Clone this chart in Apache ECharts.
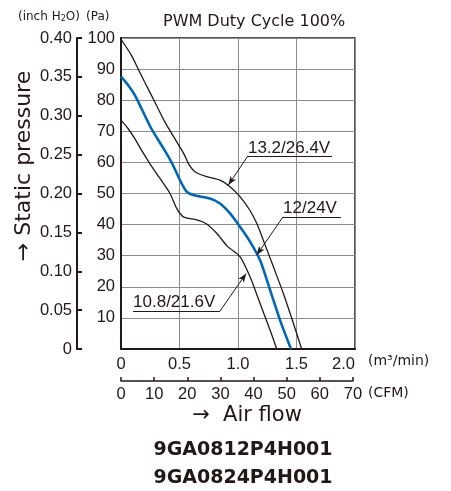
<!DOCTYPE html>
<html>
<head>
<meta charset="utf-8">
<script src="https://cdn.jsdelivr.net/npm/echarts@6/dist/echarts.min.js"></script>
<style>
  html, body { margin: 0; padding: 0; background: #fff; }
  #chart { width: 451px; height: 491px; }
</style>
</head>
<body>
<div id="chart"></div>
<script>
// ==================== 数据 ====================
// 风量 m³/min, 静压 Pa
const curveHigh = [[0,99.6],[0.088,94.5],[0.145,90.2],[0.2,86],[0.288,79.5],[0.373,73.1],[0.459,67.7],[0.54,62.6],[0.575,59.7],[0.632,57],[0.732,55.4],[0.846,54.3],[0.932,52.2],[1.017,49],[1.1,44.7],[1.16,40.4],[1.216,35],[1.302,26.5],[1.387,17.9],[1.473,8.3],[1.544,0]];
const curveMid = [[0,87.6],[0.06,84.9],[0.117,81.7],[0.174,77.4],[0.259,70.9],[0.345,65.6],[0.43,60.2],[0.504,54.3],[0.561,50.6],[0.618,49.5],[0.76,48.4],[0.846,46.8],[0.932,43.6],[1.017,39.3],[1.1,34.7],[1.188,28.6],[1.274,19],[1.359,9.3],[1.453,0]];
const curveLow = [[0,73.6],[0.06,70.9],[0.117,67.7],[0.174,64],[0.245,59.7],[0.33,55],[0.419,50],[0.476,45.2],[0.533,42.5],[0.647,41.5],[0.732,40.2],[0.818,37.2],[0.91,33],[1.017,29.7],[1.103,23.2],[1.188,14.7],[1.274,6.1],[1.331,0]];

const seriesNames = ['13.2/26.4V', '12/24V', '10.8/21.6V'];
// 标注: 文字起点 [x, y], 下划线 y / 终点 x, 引线起点, 箭头指向
const labelPos = [[1.085, 64.6], [1.385, 45.3], [0.103, 15.1]];
const underlineY = [62.1, 42.5, 12.2];
const underlineEnd = [1.803, 1.88, 0.846];
const leaderStart = [[1.085, 62.1], [1.385, 42.5], [0.846, 12.2]];
const arrowTip = [[0.917, 52.7], [1.16, 30.2], [1.07, 24.3]];

const paTicks = { min: 0, max: 100, interval: 10 };
const inchTicks = { min: 0, max: 0.40, interval: 0.05 };
const flowTicks = { min: 0, max: 2.0, interval: 0.5 };
const cfmTicks = { min: 0, max: 70, interval: 10 };

const INK = '#231815';
const BLUE = '#0068b7';
const GRIDC = '#8c8c8c';
const NUMF = "'Liberation Sans', sans-serif";
const SANS = "'DejaVu Sans', sans-serif";

function annotation(i) {
  return {
    markLine: {
      silent: true,
      symbol: ['none', 'none'],
      label: { show: false },
      lineStyle: { color: INK, width: 1, type: 'solid' },
      data: [
        [{ coord: [labelPos[i][0], underlineY[i]] }, { coord: [underlineEnd[i], underlineY[i]] }],
        [{ coord: leaderStart[i] }, { coord: arrowTip[i], symbol: 'arrow', symbolSize: [5, 9] }]
      ]
    },
    markPoint: {
      silent: true,
      symbol: 'circle',
      symbolSize: 0,
      label: {
        show: true, position: 'right', distance: 0,
        formatter: '{b}', color: INK, fontSize: 17,
        fontFamily: "'Liberation Sans', sans-serif"
      },
      data: [{ name: seriesNames[i], coord: labelPos[i] }]
    }
  };
}

function curve(i, data, color, width) {
  return Object.assign({
    name: seriesNames[i], type: 'line', xAxisIndex: 0, yAxisIndex: 0,
    data: data, smooth: 0.25, showSymbol: false, silent: true,
    lineStyle: { color: color, width: width }, itemStyle: { color: color }
  }, annotation(i));
}

const chart = echarts.init(document.getElementById('chart'));
chart.setOption({
  animation: false,
  grid: [
    { left: 121, top: 38, width: 234, height: 311, show: true, borderColor: INK, borderWidth: 1.5, backgroundColor: 'transparent' },
    { left: 121, top: 380, width: 231.9, height: 1 }
  ],
  xAxis: [
    {
      type: 'value', gridIndex: 0, position: 'bottom',
      min: flowTicks.min, max: flowTicks.max, interval: flowTicks.interval,
      axisLine: { show: true, lineStyle: { color: INK, width: 2 } },
      axisTick: { show: false },
      splitLine: { show: true, lineStyle: { color: GRIDC, width: 1 } },
      axisLabel: {
        margin: 7, color: INK, fontSize: 16.5, fontFamily: NUMF,
        alignMaxLabel: 'right',
        formatter: v => v === 0 ? '0' : v.toFixed(1)
      }
    },
    {
      type: 'value', gridIndex: 1, position: 'bottom',
      min: cfmTicks.min, max: cfmTicks.max, interval: cfmTicks.interval,
      axisLine: { show: true, lineStyle: { color: INK, width: 1.5 } },
      axisTick: { show: true, inside: true, length: 4, lineStyle: { color: INK, width: 1.5 } },
      splitLine: { show: false },
      axisLabel: { margin: 5, color: INK, fontSize: 16.5, fontFamily: NUMF }
    }
  ],
  yAxis: [
    {
      type: 'value', gridIndex: 0, position: 'left',
      min: paTicks.min, max: paTicks.max, interval: paTicks.interval,
      axisLine: { show: true, lineStyle: { color: INK, width: 2 } },
      axisTick: { show: false },
      splitLine: { show: true, lineStyle: { color: GRIDC, width: 1 } },
      axisLabel: {
        margin: 6, color: INK, fontSize: 16.5, fontFamily: NUMF,
        formatter: v => v === 0 ? '' : String(v)
      }
    },
    {
      type: 'value', gridIndex: 0, position: 'left', offset: 44,
      min: inchTicks.min, max: inchTicks.max, interval: inchTicks.interval,
      axisLine: { show: true, lineStyle: { color: INK, width: 2 } },
      axisTick: { show: true, inside: true, length: 5, lineStyle: { color: INK, width: 2 } },
      splitLine: { show: false },
      axisLabel: {
        margin: 5, color: INK, fontSize: 16.5, fontFamily: NUMF,
        formatter: v => v === 0 ? '0' : v.toFixed(2)
      }
    },
    { type: 'value', gridIndex: 1, show: false, min: 0, max: 1 }
  ],
  series: [
    curve(0, curveHigh, INK, 1.3),
    curve(1, curveMid, BLUE, 2.6),
    curve(2, curveLow, INK, 1.3)
  ],
  graphic: [
    {
      type: 'text', left: 18, top: 11,
      style: {
        text: '(inch H{sub|2}O)', fill: INK, font: '12px ' + SANS,
        rich: { sub: { fontSize: 8, fontFamily: SANS, fill: INK, verticalAlign: 'bottom', padding: [4, 0, 0, 0] } }
      }
    },
    { type: 'text', left: 86, top: 11, style: { text: '(Pa)', fill: INK, font: '12px ' + SANS } },
    { type: 'text', left: 163, top: 14, style: { text: 'PWM Duty Cycle 100%', fill: INK, font: '16px ' + SANS } },
    {
      type: 'text', x: 24, y: 166, rotation: Math.PI / 2,
      style: { text: '→ Static pressure', fill: INK, font: '22px ' + SANS, align: 'center', verticalAlign: 'middle' }
    },
    { type: 'text', left: 368, top: 354, style: { text: '(m³/min)', fill: INK, font: '14px ' + SANS } },
    { type: 'text', left: 368, top: 386, style: { text: '(CFM)', fill: INK, font: '14px ' + SANS } },
    { type: 'text', x: 247, y: 416, style: { text: '→  Air flow', fill: INK, font: '21px ' + SANS, align: 'center', verticalAlign: 'middle' } },
    { type: 'text', x: 243, y: 450, style: { text: '9GA0812P4H001', fill: INK, font: 'bold 19px ' + SANS, align: 'center', verticalAlign: 'middle' } },
    { type: 'text', x: 243, y: 478, style: { text: '9GA0824P4H001', fill: INK, font: 'bold 19px ' + SANS, align: 'center', verticalAlign: 'middle' } }
  ]
});
</script>
</body>
</html>
